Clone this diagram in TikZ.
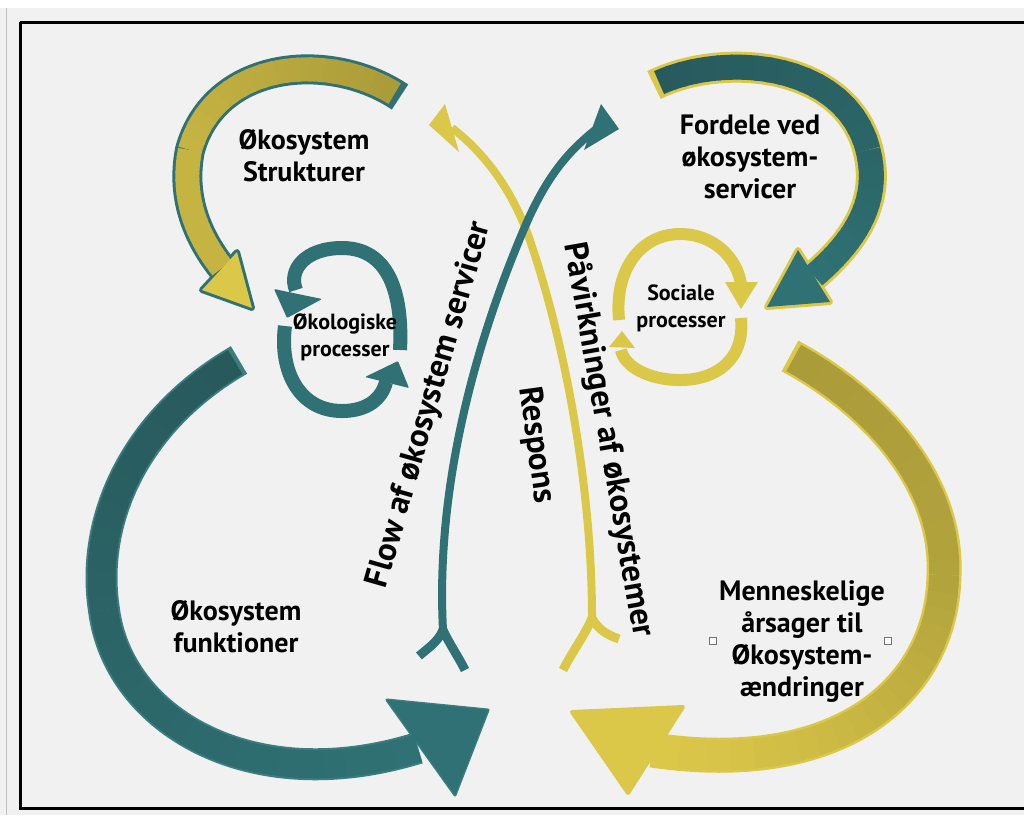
\documentclass[tikz,border=0pt]{standalone}
\usepackage{fontspec}
\setmainfont{PT Sans}
\definecolor{tealc}{HTML}{2F7174}
\definecolor{dteal}{HTML}{285A5C}
\definecolor{tealo}{HTML}{3A7E80}
\definecolor{yel}{HTML}{DBC849}
\definecolor{oli}{HTML}{AB9C3A}
\definecolor{bg}{HTML}{F1F1F1}
% gradient stroke along one cubic segment given by coordinate names
\newcommand\gcurve[8]{%
 \foreach \i in {0,...,19}{%
  \pgfmathsetmacro\ta{#4+(1-#4)*\i/20}%
  \pgfmathsetmacro\tb{min(1,#4+(1-#4)*(\i+1.25)/20)}%
  \pgfmathsetmacro\mx{100*\i/19}%
  \colorlet{segc}{#2!\mx!#1}%
  \pgfsetlinewidth{#3}%
  \pgfsetbuttcap
  \pgfsetstrokecolor{segc}%
  \pgfpathcurvebetweentime{\ta}{\tb}{\pgfpointanchor{#5}{center}}{\pgfpointanchor{#6}{center}}{\pgfpointanchor{#7}{center}}{\pgfpointanchor{#8}{center}}%
  \pgfusepath{stroke}%
 }}
\tikzset{
  lab/.style={font=\bfseries\fontsize{28}{32}\selectfont, align=center, inner sep=0pt, text=black},
  labs/.style={font=\bfseries\fontsize{22}{27}\selectfont, align=center, inner sep=0pt, text=black},
  labr/.style={font=\bfseries\fontsize{33}{36}\selectfont, inner sep=0pt, text=black},
  handle/.style={draw=black!55, fill=white, minimum size=7pt, inner sep=0pt, line width=0.7pt},
}
\begin{document}
\begin{tikzpicture}[x=1pt,y=-1pt, line cap=butt]
\useasboundingbox (0,0) rectangle (1024,815);
\fill[bg] (0,0) rectangle (1024,815);
\fill[white] (0,0) rectangle (1024,8);
\draw[black!25, line width=1pt] (6.5,8) -- (6.5,815);
\draw[black, line width=3pt] (20,22) -- (1030,22) (20,22) -- (20,808) -- (1030,808);

% ---------- coordinates ----------
% A1 top-left yellow arrow
\coordinate (a1s) at (400,97);  \coordinate (a1c1) at (330,50);  \coordinate (a1c2) at (215,60);
\coordinate (a1m) at (190,150); \coordinate (a1c3) at (180,200); \coordinate (a1c4) at (200,240);
\coordinate (a1e) at (222,268);
\coordinate (a1h1) at (202,290); \coordinate (a1ht) at (252,308); \coordinate (a1h2) at (237,252);
% A2 top-right teal arrow
\coordinate (a2s) at (654,85);  \coordinate (a2c1) at (720,52);  \coordinate (a2c2) at (845,60);
\coordinate (a2m) at (868,150); \coordinate (a2c3) at (882,205); \coordinate (a2c4) at (850,245);
\coordinate (a2e) at (814,276);
\coordinate (a2h1) at (798,250); \coordinate (a2ht) at (767,307); \coordinate (a2h2) at (830,302);
% B1 big teal arc
\coordinate (b1s) at (239,360); \coordinate (b1c1) at (135,420); \coordinate (b1c2) at (90,520);
\coordinate (b1m) at (104,610); \coordinate (b1c3) at (118,720); \coordinate (b1c4) at (250,800);
\coordinate (b1e) at (418,748);
\coordinate (b1h1) at (387,700); \coordinate (b1ht) at (488,710); \coordinate (b1h2) at (455,795);
% B2 big yellow arc
\coordinate (b2s) at (790,356); \coordinate (b2c1) at (872,400); \coordinate (b2c2) at (948,480);
\coordinate (b2m) at (944,575); \coordinate (b2c3) at (942,690); \coordinate (b2c4) at (840,778);
\coordinate (b2e) at (652,750);
\coordinate (b2h1) at (683,707); \coordinate (b2ht) at (572,712); \coordinate (b2h2) at (628,793);

% ---------- A1 ----------
\draw[tealc, line width=30pt] (a1s) .. controls (a1c1) and (a1c2) .. (a1m) .. controls (a1c3) and (a1c4) .. (a1e);
\filldraw[tealc, line width=6pt, line join=round] (a1h1) -- (a1ht) -- (a1h2) -- cycle;
\gcurve{oli}{yel!55!oli}{24pt}{0.025}{a1s}{a1c1}{a1c2}{a1m}
\gcurve{yel!55!oli}{yel}{24pt}{0}{a1m}{a1c3}{a1c4}{a1e}
\fill[yel] (a1h1) -- (a1ht) -- (a1h2) -- cycle;

% ---------- A2 ----------
\draw[yel, line width=31pt] (a2s) .. controls (a2c1) and (a2c2) .. (a2m) .. controls (a2c3) and (a2c4) .. (a2e);
\filldraw[yel, line width=6pt, line join=round] (a2h1) -- (a2ht) -- (a2h2) -- cycle;
\gcurve{dteal}{dteal!50!tealc}{25pt}{0.025}{a2s}{a2c1}{a2c2}{a2m}
\gcurve{dteal!50!tealc}{tealc}{25pt}{0}{a2m}{a2c3}{a2c4}{a2e}
\fill[tealc] (a2h1) -- (a2ht) -- (a2h2) -- cycle;

% ---------- B1 ----------
\draw[tealo, line width=32pt] (b1s) .. controls (b1c1) and (b1c2) .. (b1m) .. controls (b1c3) and (b1c4) .. (b1e);
\filldraw[tealo, line width=3pt, line join=round] (b1h1) -- (b1ht) -- (b1h2) -- cycle;
\gcurve{dteal}{dteal!60!tealc}{28pt}{0.012}{b1s}{b1c1}{b1c2}{b1m}
\gcurve{dteal!60!tealc}{tealc}{28pt}{0}{b1m}{b1c3}{b1c4}{b1e}
\fill[tealc] (b1h1) -- (b1ht) -- (b1h2) -- cycle;

% ---------- B2 ----------
\draw[yel, line width=35pt] (b2s) .. controls (b2c1) and (b2c2) .. (b2m) .. controls (b2c3) and (b2c4) .. (b2e);
\filldraw[yel, line width=4pt, line join=round] (b2h1) -- (b2ht) -- (b2h2) -- cycle;
\gcurve{oli}{oli!85!yel}{30pt}{0.015}{b2s}{b2c1}{b2c2}{b2m}
\gcurve{oli!85!yel}{yel}{30pt}{0}{b2m}{b2c3}{b2c4}{b2e}
\fill[yel] (b2h1) -- (b2ht) -- (b2h2) -- cycle;

% ---------- small teal loop ----------
\coordinate (l1a) at (400,350); \coordinate (l1b) at (342,248); \coordinate (l1c) at (296,290);
\coordinate (l1ah1) at (274,289); \coordinate (l1aht) at (287,318); \coordinate (l1ah2) at (322,299);
\coordinate (l1d) at (285,326); \coordinate (l1e) at (342,411); \coordinate (l1f) at (386,382);
\coordinate (l1bh1) at (365,377); \coordinate (l1bht) at (398,361); \coordinate (l1bh2) at (409,388);
\draw[tealc, line width=14pt] (l1a) .. controls (403,292) and (388,248) .. (l1b) .. controls (305,248) and (288,270) .. (l1c);
\fill[tealc, rounded corners=1pt] (l1ah1) -- (l1aht) -- (l1ah2) -- cycle;
\draw[tealc, line width=14pt] (l1d) .. controls (279,372) and (300,411) .. (l1e) .. controls (368,411) and (382,398) .. (l1f);
\fill[tealc, rounded corners=1pt] (l1bh1) -- (l1bht) -- (l1bh2) -- cycle;

% ---------- small yellow loop ----------
\coordinate (l2a) at (619,320); \coordinate (l2b) at (680,234); \coordinate (l2c) at (741,284);
\coordinate (l2ah1) at (725,282); \coordinate (l2aht) at (741,309); \coordinate (l2ah2) at (758,282);
\coordinate (l2d) at (741,318); \coordinate (l2e) at (680,380); \coordinate (l2f) at (621,350);
\coordinate (l2bh1) at (609,347); \coordinate (l2bht) at (622,331); \coordinate (l2bh2) at (635,348);
\draw[yel, line width=12pt] (l2a) .. controls (614,268) and (642,234) .. (l2b) .. controls (714,234) and (737,258) .. (l2c);
\fill[yel] (l2ah1) -- (l2aht) -- (l2ah2) -- cycle;
\draw[yel, line width=12pt] (l2d) .. controls (745,360) and (716,380) .. (l2e) .. controls (648,380) and (624,366) .. (l2f);
\fill[yel] (l2bh1) -- (l2bht) -- (l2bh2) -- cycle;

% ---------- thin crossing arrows ----------
\coordinate (c2s) at (592,618); \coordinate (c2m) at (527,232); \coordinate (c2e) at (452,128);
\coordinate (c2h1) at (429,125); \coordinate (c2ht) at (445,104); \coordinate (c2h2) at (459,152);
\coordinate (c2f1) at (563,670); \coordinate (c2f2) at (619,639);
\draw[yel, line width=8pt] (c2s) .. controls (592,480) and (562,330) .. (c2m) .. controls (507,180) and (478,148) .. (c2e);
\fill[yel] (c2h1) -- (c2ht) -- (c2h2) -- cycle;
\draw[yel, line width=9pt] (c2s) .. controls (585,635) and (572,652) .. (c2f1);
\draw[yel, line width=9pt] (c2s) .. controls (598,630) and (608,635) .. (c2f2);

\coordinate (c1s) at (443,630); \coordinate (c1m) at (527,222); \coordinate (c1e) at (595,130);
\coordinate (c1h1) at (584,150); \coordinate (c1ht) at (601,104); \coordinate (c1h2) at (619,129);
\coordinate (c1f1) at (419,656); \coordinate (c1f2) at (465,670);
\draw[tealc, line width=8pt] (c1s) .. controls (435,480) and (480,330) .. (c1m) .. controls (550,170) and (573,148) .. (c1e);
\fill[tealc] (c1h1) -- (c1ht) -- (c1h2) -- cycle;
\draw[tealc, line width=9pt] (c1s) .. controls (438,642) and (428,648) .. (c1f1);
\draw[tealc, line width=9pt] (c1s) .. controls (450,645) and (458,656) .. (c1f2);

% ---------- labels ----------
\node[lab] (tStr) at (304,156) {Økosystem\\Strukturer};
\node[lab] (tFor) at (750,157) {Fordele ved\\økosystem-\\servicer};
\node[labs] (tEko) at (345,337) {Økologiske\\processer};
\node[labs] (tSoc) at (681,308) {Sociale\\processer};
\node[lab] (tFun) at (236,627) {Økosystem\\funktioner};
\node[lab] (tMen) at (802,641) {Menneskelige\\årsager til\\Økosystem-\\ændringer};
\node[labr, rotate=74] (tFlow) at (430,405) {Flow af økosystem servicer};
\node[labr, rotate=-80] (tPaa) at (608,440) {Påvirkninger af økosystemer};
\node[labr, rotate=-82] (tRes) at (536,445) {Respons};
\node[handle] (hL) at (713,641) {};
\node[handle] (hR) at (888,641) {};
\end{tikzpicture}
\end{document}
